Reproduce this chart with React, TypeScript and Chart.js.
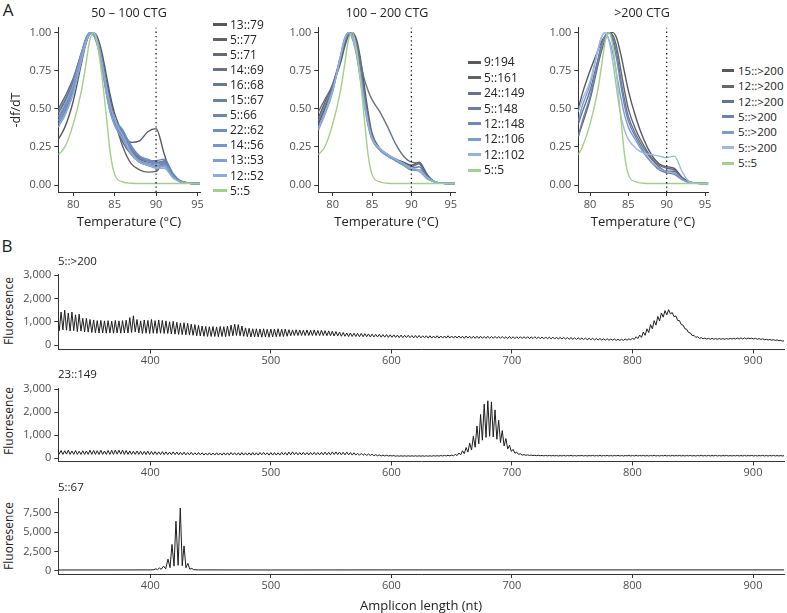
import React, { useEffect, useRef } from "react";
import { Chart, registerables } from "chart.js";
Chart.register(...registerables);

const FONT = "'Open Sans', sans-serif";
const AXIS_COLOR = "#333333";
const TICK_COLOR = "#4d4d4d";
Chart.defaults.font.family = FONT;

// ---------------- Panel A: melt curves ----------------
const A1_TEMPS = [78.2, 79, 80, 81, 81.5, 82, 82.5, 83, 83.5, 84, 84.5, 85, 86, 87, 88, 89, 90, 91, 92, 93, 94, 95.3];
const A2_TEMPS = [78.18, 79, 80, 81, 81.5, 82, 82.5, 83, 83.5, 84, 84.5, 85, 86, 87, 88, 89, 90, 91, 92, 93, 94, 95.54];
const A3_TEMPS = [78.47, 79, 80, 81, 81.5, 82, 82.5, 83, 83.5, 84, 84.5, 85, 86, 87, 88, 89, 90, 91, 92, 93, 94, 95.43];
const A_XTICKS = [80, 85, 90, 95];
const A_YTICKS = [0, 0.25, 0.5, 0.75, 1];
const A_MARK_TEMP = 90;
const A_TITLES = ["50 – 100 CTG", "100 – 200 CTG", ">200 CTG"];

const S_5_5 = [0.2, 0.25, 0.4, 0.62, 0.78, 0.95, 1.0, 0.9, 0.7, 0.45, 0.2, 0.07, 0.02, 0.012, 0.01, 0.01, 0.01, 0.01, 0.01, 0.01, 0.01, 0.01];

const S1_13_79 = [0.3, 0.38, 0.55, 0.8, 0.92, 0.99, 1.0, 0.96, 0.86, 0.72, 0.58, 0.47, 0.34, 0.28, 0.29, 0.35, 0.37, 0.2, 0.06, 0.025, 0.015, 0.012];
const S1_5_77 = [0.47, 0.55, 0.68, 0.86, 0.95, 1.0, 0.99, 0.93, 0.82, 0.68, 0.55, 0.43, 0.25, 0.14, 0.1, 0.085, 0.09, 0.15, 0.06, 0.02, 0.012, 0.01];
const S1_5_71 = [0.5, 0.58, 0.7, 0.87, 0.95, 1.0, 0.98, 0.92, 0.8, 0.66, 0.53, 0.42, 0.28, 0.2, 0.15, 0.13, 0.12, 0.14, 0.06, 0.02, 0.012, 0.01];
const S1_14_69 = [0.44, 0.52, 0.66, 0.85, 0.94, 0.99, 1.0, 0.93, 0.8, 0.66, 0.52, 0.42, 0.31, 0.22, 0.17, 0.15, 0.14, 0.16, 0.07, 0.025, 0.012, 0.01];
const S1_16_68 = [0.42, 0.5, 0.64, 0.84, 0.94, 0.99, 1.0, 0.92, 0.78, 0.63, 0.5, 0.41, 0.32, 0.23, 0.18, 0.16, 0.15, 0.15, 0.07, 0.02, 0.012, 0.01];
const S1_15_67 = [0.48, 0.56, 0.69, 0.87, 0.96, 1.0, 0.98, 0.9, 0.77, 0.62, 0.5, 0.42, 0.34, 0.24, 0.18, 0.16, 0.16, 0.17, 0.08, 0.025, 0.012, 0.01];
const S1_5_66 = [0.4, 0.48, 0.62, 0.83, 0.93, 0.99, 1.0, 0.92, 0.78, 0.63, 0.5, 0.42, 0.35, 0.26, 0.19, 0.17, 0.15, 0.15, 0.07, 0.02, 0.012, 0.01];
const S1_22_62 = [0.38, 0.46, 0.6, 0.82, 0.93, 0.99, 1.0, 0.93, 0.79, 0.64, 0.51, 0.43, 0.36, 0.25, 0.19, 0.16, 0.14, 0.14, 0.06, 0.02, 0.012, 0.01];
const S1_14_56 = [0.42, 0.5, 0.63, 0.84, 0.94, 1.0, 0.99, 0.91, 0.76, 0.6, 0.47, 0.4, 0.33, 0.22, 0.16, 0.14, 0.13, 0.13, 0.06, 0.02, 0.012, 0.01];
const S1_13_53 = [0.45, 0.53, 0.66, 0.86, 0.95, 1.0, 0.98, 0.9, 0.76, 0.6, 0.47, 0.39, 0.3, 0.2, 0.15, 0.13, 0.12, 0.12, 0.05, 0.02, 0.012, 0.01];
const S1_12_52 = [0.38, 0.46, 0.6, 0.82, 0.93, 0.99, 1.0, 0.93, 0.8, 0.65, 0.52, 0.43, 0.32, 0.21, 0.15, 0.13, 0.11, 0.11, 0.05, 0.02, 0.012, 0.01];

const S2_9_194 = [0.4, 0.5, 0.65, 0.8, 0.9, 0.98, 1.0, 0.96, 0.84, 0.66, 0.48, 0.34, 0.24, 0.2, 0.17, 0.15, 0.13, 0.15, 0.07, 0.02, 0.012, 0.01];
const S2_5_161 = [0.44, 0.54, 0.66, 0.82, 0.92, 0.99, 1.0, 0.94, 0.8, 0.62, 0.45, 0.32, 0.23, 0.19, 0.17, 0.14, 0.12, 0.14, 0.06, 0.02, 0.012, 0.01];
const S2_24_149 = [0.48, 0.56, 0.66, 0.84, 0.94, 1.0, 0.99, 0.93, 0.82, 0.7, 0.62, 0.56, 0.48, 0.38, 0.27, 0.19, 0.15, 0.14, 0.06, 0.02, 0.012, 0.01];
const S2_5_148 = [0.42, 0.52, 0.64, 0.83, 0.93, 0.99, 1.0, 0.93, 0.78, 0.6, 0.44, 0.32, 0.24, 0.2, 0.16, 0.13, 0.11, 0.12, 0.05, 0.02, 0.012, 0.01];
const S2_12_148 = [0.38, 0.48, 0.62, 0.84, 0.95, 1.0, 0.97, 0.88, 0.72, 0.55, 0.4, 0.3, 0.23, 0.19, 0.16, 0.13, 0.1, 0.1, 0.05, 0.02, 0.012, 0.01];
const S2_12_106 = [0.36, 0.46, 0.61, 0.85, 0.96, 1.0, 0.96, 0.86, 0.7, 0.53, 0.39, 0.3, 0.23, 0.19, 0.16, 0.13, 0.1, 0.09, 0.04, 0.02, 0.012, 0.01];
const S2_12_102 = [0.37, 0.47, 0.62, 0.84, 0.95, 1.0, 0.97, 0.87, 0.72, 0.55, 0.41, 0.31, 0.24, 0.2, 0.17, 0.14, 0.11, 0.1, 0.05, 0.02, 0.012, 0.01];

const S3_15_200 = [0.5, 0.6, 0.75, 0.88, 0.94, 0.98, 1.0, 1.0, 0.96, 0.86, 0.74, 0.62, 0.44, 0.3, 0.2, 0.14, 0.12, 0.11, 0.05, 0.02, 0.012, 0.01];
const S3_12_200a = [0.32, 0.4, 0.56, 0.78, 0.88, 0.96, 1.0, 0.98, 0.9, 0.76, 0.62, 0.5, 0.36, 0.26, 0.18, 0.13, 0.11, 0.1, 0.05, 0.02, 0.012, 0.01];
const S3_12_200b = [0.4, 0.48, 0.62, 0.82, 0.92, 0.98, 1.0, 0.96, 0.86, 0.7, 0.56, 0.45, 0.33, 0.24, 0.17, 0.12, 0.09, 0.09, 0.04, 0.02, 0.012, 0.01];
const S3_5_200a = [0.32, 0.42, 0.58, 0.8, 0.91, 0.98, 1.0, 0.94, 0.82, 0.66, 0.52, 0.42, 0.31, 0.22, 0.15, 0.1, 0.08, 0.07, 0.035, 0.015, 0.012, 0.01];
const S3_5_200b = [0.42, 0.52, 0.66, 0.88, 0.97, 1.0, 0.95, 0.86, 0.72, 0.58, 0.46, 0.38, 0.29, 0.21, 0.15, 0.11, 0.09, 0.08, 0.04, 0.015, 0.012, 0.01];
const S3_5_200c = [0.48, 0.56, 0.68, 0.88, 0.97, 1.0, 0.94, 0.8, 0.62, 0.46, 0.36, 0.3, 0.24, 0.21, 0.2, 0.19, 0.18, 0.19, 0.09, 0.02, 0.012, 0.01];

const A1_LABELS = ["13::79", "5::77", "5::71", "14::69", "16::68", "15::67", "5::66", "22::62", "14::56", "13::53", "12::52", "5::5"];
const A1_SERIES = [S1_13_79, S1_5_77, S1_5_71, S1_14_69, S1_16_68, S1_15_67, S1_5_66, S1_22_62, S1_14_56, S1_13_53, S1_12_52, S_5_5];
const A1_COLORS = ["#55595f", "#5e636b", "#626a76", "#677285", "#6a7a93", "#6c80a3", "#6c87b6", "#6f8ec2", "#7595cb", "#7e9fd3", "#8cabdb", "#a2cf8a"];

const A2_LABELS = ["9:194", "5::161", "24::149", "5::148", "12::148", "12::106", "12::102", "5::5"];
const A2_SERIES = [S2_9_194, S2_5_161, S2_24_149, S2_5_148, S2_12_148, S2_12_106, S2_12_102, S_5_5];
const A2_COLORS = ["#56595f", "#5f646c", "#65708a", "#6a7da4", "#6b88c0", "#7a9ccf", "#93b2df", "#a2cf8a"];

const A3_LABELS = ["15::>200", "12::>200", "12::>200", "5::>200", "5::>200", "5::>200", "5::5"];
const A3_SERIES = [S3_15_200, S3_12_200a, S3_12_200b, S3_5_200a, S3_5_200b, S3_5_200c, S_5_5];
const A3_COLORS = ["#56595f", "#62666e", "#677390", "#6b84b3", "#7c9cd3", "#9cb9e4", "#a2cf8a"];

// ---------------- Panel B: capillary electrophoresis ----------------
const CE_START = 323; // nt of first repeat peak
const CE_STEP = 3; // CTG repeat unit
const B_XTICKS = [400, 500, 600, 700, 800, 900];
const B_LABELS = ["5::>200", "23::149", "5::67"];

const CE1_PEAKS = [
  1350, 1420, 1500, 1380, 1420, 1300, 1330, 1150, 1150, 1100,
  1080, 1050, 1060, 1040, 1050, 1030, 1060, 1040, 1050, 1070,
  1180, 1260, 1100, 1040, 1080, 1060, 1100, 1050, 1080, 1060,
  1040, 1000, 1020, 980, 950, 960, 940, 900, 880, 850,
  820, 800, 790, 800, 780, 800, 790, 820, 860, 900,
  880, 820, 740, 720, 700, 700, 690, 700, 680, 690,
  690, 700, 680, 690, 660, 650, 660, 650, 640, 650,
  640, 650, 630, 640, 620, 610, 600, 580, 560, 540,
  520, 520, 510, 500, 500, 490, 480, 470, 460, 460,
  450, 450, 440, 440, 430, 430, 420, 420, 410, 410,
  410, 400, 400, 400, 390, 400, 390, 390, 400, 390,
  390, 390, 380, 390, 380, 380, 380, 380, 370, 380,
  370, 370, 370, 370, 360, 370, 360, 360, 360, 360,
  360, 350, 360, 350, 350, 350, 340, 340, 340, 330,
  330, 320, 320, 310, 310, 300, 300, 290, 290, 280,
  280, 270, 270, 260, 260, 250, 250, 260, 270, 300,
  360, 430, 560, 700, 880, 1050, 1230, 1380, 1480, 1520,
  1400, 1250, 1050, 860, 680, 520, 420, 360, 320, 300,
  290, 290, 280, 280, 280, 280, 290, 290, 300, 310,
  310, 300, 300, 290, 280, 270, 250, 240, 230, 220,
  200, 190,
];
const CE1_TROUGHS = [
  620, 650, 640, 600, 620, 580, 600, 560, 560, 540,
  530, 520, 520, 510, 520, 510, 520, 510, 520, 520,
  540, 560, 520, 500, 510, 500, 510, 500, 510, 500,
  500, 480, 470, 460, 450, 440, 430, 420, 400, 390,
  380, 370, 370, 370, 360, 370, 360, 380, 400, 410,
  400, 380, 360, 350, 350, 350, 340, 350, 340, 350,
  360, 370, 370, 380, 400, 410, 410, 410, 410, 410,
  410, 410, 410, 410, 400, 400, 390, 390, 380, 380,
  370, 370, 370, 360, 360, 360, 350, 350, 350, 340,
  340, 330, 330, 330, 320, 320, 320, 320, 310, 310,
  310, 310, 300, 300, 300, 300, 300, 300, 300, 300,
  300, 300, 290, 300, 290, 290, 290, 290, 290, 290,
  290, 290, 290, 290, 280, 280, 280, 280, 280, 280,
  280, 280, 280, 270, 270, 270, 270, 260, 260, 260,
  260, 250, 250, 240, 240, 240, 230, 230, 220, 220,
  220, 210, 210, 210, 200, 200, 200, 210, 220, 240,
  280, 330, 420, 540, 700, 860, 1040, 1200, 1300, 1340,
  1220, 1060, 880, 700, 540, 410, 330, 290, 270, 260,
  250, 250, 250, 250, 250, 250, 260, 260, 260, 260,
  270, 270, 260, 250, 240, 230, 220, 210, 200, 190,
  170, 160,
];

const CE2_PEAKS = [
  430, 330, 320, 340, 310, 330, 300, 320, 310, 340,
  330, 320, 340, 310, 330, 340, 350, 340, 350, 330,
  310, 300, 310, 300, 290, 300, 290, 280, 270, 280,
  270, 260, 270, 260, 250, 260, 240, 250, 230, 240,
  230, 220, 230, 220, 230, 220, 230, 230, 240, 230,
  230, 240, 230, 230, 240, 230, 240, 250, 230, 240,
  240, 230, 250, 240, 260, 270, 250, 240, 250, 240,
  240, 250, 240, 250, 260, 250, 270, 270, 260, 250,
  260, 240, 230, 210, 200, 190, 180, 170, 150, 140,
  130, 120, 110, 110, 100, 100, 100, 100, 100, 100,
  100, 100, 100, 100, 105, 105, 110, 115, 120, 130,
  160, 220, 320, 460, 650, 950, 1400, 1900, 2350, 2500,
  2450, 2100, 1650, 1200, 850, 560, 380, 260, 190, 150,
  140, 130, 120, 120, 115, 115, 115, 110, 110, 110,
  115, 110, 115, 110, 110, 115, 110, 110, 115, 110,
  115, 110, 115, 110, 110, 115, 110, 110, 115, 110,
  115, 110, 115, 110, 110, 115, 110, 110, 115, 110,
  115, 110, 115, 110, 110, 115, 110, 110, 115, 110,
  115, 110, 115, 110, 110, 115, 110, 110, 115, 110,
  115, 110, 115, 110, 110, 115, 110, 110, 115, 110,
  110, 110,
];
const CE2_TROUGHS = [
  170, 160, 170, 160, 160, 160, 160, 160, 160, 160,
  160, 160, 160, 160, 160, 160, 170, 170, 160, 160,
  160, 160, 160, 150, 150, 150, 150, 150, 150, 150,
  150, 150, 150, 140, 140, 140, 140, 140, 140, 140,
  130, 130, 130, 130, 130, 130, 130, 130, 140, 130,
  130, 130, 130, 130, 130, 130, 140, 140, 130, 130,
  130, 130, 140, 130, 140, 150, 140, 140, 140, 140,
  140, 140, 140, 140, 140, 140, 150, 150, 140, 140,
  140, 130, 130, 120, 120, 110, 110, 100, 100, 90,
  90, 90, 90, 80, 80, 80, 80, 80, 80, 80,
  80, 80, 80, 80, 85, 85, 90, 90, 95, 100,
  110, 140, 190, 260, 350, 470, 620, 780, 900, 950,
  920, 820, 680, 530, 400, 290, 210, 160, 130, 120,
  115, 110, 105, 100, 95, 95, 95, 95, 90, 90,
  90, 95, 90, 90, 95, 90, 90, 95, 90, 90,
  90, 95, 90, 90, 95, 90, 90, 95, 90, 90,
  90, 95, 90, 90, 95, 90, 90, 95, 90, 90,
  90, 95, 90, 90, 95, 90, 90, 95, 90, 90,
  90, 95, 90, 90, 95, 90, 90, 95, 90, 90,
  90, 95, 90, 90, 95, 90, 90, 95, 90, 90,
  90, 90,
];

const CE3_NT = [323.7, 360, 400, 403, 404.6, 406, 407.6, 409, 411, 412.8, 414.7, 416.4, 418, 419.7, 421.3, 423.1, 424.9, 426.5, 428, 429.6, 431.2, 432.8, 434.5, 436, 440, 500, 600, 700, 800, 925.7];
const CE3_RFU = [100, 100, 110, 140, 250, 140, 350, 180, 600, 250, 1500, 400, 3400, 600, 6400, 700, 8100, 650, 3200, 380, 950, 200, 300, 130, 110, 100, 110, 110, 110, 110];

// ---------------- layout helpers ----------------
type Box = { l: number; t: number; r: number; b: number };
const YW = 40;
const XH = 26;
const PAD_T = 8;
const PAD_R = 10;

function frame(box: Box) {
  const cl = Math.floor(box.l - YW);
  const ct = Math.floor(box.t - PAD_T);
  const cw = Math.ceil(box.r + PAD_R) - cl;
  const ch = Math.ceil(box.b + XH) - ct;
  return {
    cl, ct, cw, ch,
    padL: box.l - YW - cl,
    padT: box.t - ct,
    padR: cl + cw - box.r,
    xh: ct + ch - box.b,
  };
}

function linAxis(min: number, max: number, ticks: number[], fmt: (v: number) => string, fit: (s: any) => void, pad: number) {
  return {
    type: "linear",
    min,
    max,
    afterBuildTicks: (s: any) => {
      s.ticks = ticks.map((v) => ({ value: v }));
    },
    afterFit: fit,
    grid: { display: true, drawOnChartArea: false, drawTicks: true, tickLength: 4, color: AXIS_COLOR, lineWidth: 1 },
    border: { display: true, color: AXIS_COLOR, width: 1 },
    ticks: {
      font: { family: FONT, size: 11 },
      color: TICK_COLOR,
      padding: pad,
      autoSkip: false,
      maxRotation: 0,
      minRotation: 0,
      callback: (v: any) => fmt(Number(v)),
    },
  };
}

function buildConfig(f: any, datasets: any[], x: [number, number, number[], (v: number) => string], y: [number, number, number[], (v: number) => string], xPad: number) {
  return {
    type: "line",
    data: { datasets },
    options: {
      responsive: false,
      maintainAspectRatio: false,
      animation: false,
      devicePixelRatio: 1,
      events: [],
      layout: { autoPadding: false, padding: { left: f.padL, top: f.padT, right: f.padR, bottom: 0 } },
      plugins: { legend: { display: false }, title: { display: false }, tooltip: { enabled: false } },
      elements: { point: { radius: 0 } },
      scales: {
        x: linAxis(x[0], x[1], x[2], x[3], (s: any) => { s.height = f.xh; }, xPad),
        y: linAxis(y[0], y[1], y[2], y[3], (s: any) => { s.width = YW; }, 3),
      },
    },
  };
}

function ChartCanvas({ box, make }: { box: Box; make: (f: any) => any }) {
  const ref = useRef<HTMLCanvasElement>(null);
  const f = frame(box);
  useEffect(() => {
    const chart = new Chart(ref.current as HTMLCanvasElement, make(f) as any);
    return () => chart.destroy();
  }, []);
  return (
    <canvas
      ref={ref}
      width={f.cw}
      height={f.ch}
      style={{ position: "absolute", left: f.cl, top: f.ct, width: f.cw, height: f.ch }}
    />
  );
}

const fmt2 = (v: number) => v.toFixed(2);
const fmtInt = (v: number) => String(v);
const fmtComma = (v: number) => v.toLocaleString("en-US");

const A_YMIN = -0.0457;
const A_YMAX = 1.033;

function meltConfig(temps: number[], series: number[][], colors: string[], xmin: number, xmax: number) {
  return (f: any) => {
    const ds: any[] = series.map((vals, i) => ({
      data: temps.map((t, k) => ({ x: t, y: vals[k] })),
      borderColor: colors[i],
      borderWidth: 1.4,
      cubicInterpolationMode: "monotone",
      fill: false,
      order: -i,
    }));
    ds.push({
      data: [
        { x: A_MARK_TEMP, y: A_YMIN },
        { x: A_MARK_TEMP, y: A_YMAX },
      ],
      borderColor: "#1a1a1a",
      borderWidth: 1.3,
      borderDash: [1.3, 3],
      fill: false,
      order: -100,
    });
    return buildConfig(f, ds, [xmin, xmax, A_XTICKS, fmtInt], [A_YMIN, A_YMAX, A_YTICKS, fmt2], 2);
  };
}

function repeatTrace(peaks: number[], troughs: number[]) {
  const pts: { x: number; y: number }[] = [];
  peaks.forEach((p, i) => {
    const x = CE_START + CE_STEP * i;
    pts.push({ x, y: p });
    pts.push({ x: x + CE_STEP / 2, y: troughs[i] });
  });
  return pts;
}

const B_XMIN = 323.7;
const B_XMAX = 925.7;

function traceConfig(points: { x: number; y: number }[], ymin: number, ymax: number, yticks: number[]) {
  return (f: any) =>
    buildConfig(
      f,
      [{ data: points, borderColor: "#1e1e1e", borderWidth: 1, tension: 0, fill: false }],
      [B_XMIN, B_XMAX, B_XTICKS, fmtInt],
      [ymin, ymax, yticks, fmtComma],
      1
    );
}

function Txt({ x, y, size, children, align = "center", rotate = false, color = "#222" }: any) {
  const tx = align === "left" ? "0" : "-50%";
  return (
    <div
      style={{
        position: "absolute",
        left: x,
        top: y,
        transform: rotate ? "translate(-50%,-50%) rotate(-90deg)" : `translate(${tx},-50%)`,
        fontSize: size,
        lineHeight: 1,
        whiteSpace: "nowrap",
        color,
        fontFamily: FONT,
      }}
    >
      {children}
    </div>
  );
}

function Legend({ x, textX, w, y0, dy, labels, colors, size }: any) {
  return (
    <>
      {labels.map((lab: string, i: number) => (
        <React.Fragment key={i}>
          <div style={{ position: "absolute", left: x, top: y0 + dy * i - 1.5, width: w, height: 3, background: colors[i] }} />
          <Txt x={textX} y={y0 + dy * i} size={size} align="left">
            {lab}
          </Txt>
        </React.Fragment>
      ))}
    </>
  );
}

export default function App() {
  const A1: Box = { l: 58.3, t: 26.6, r: 200, b: 192 };
  const A2: Box = { l: 318.3, t: 26.6, r: 455, b: 192 };
  const A3: Box = { l: 578.3, t: 26.6, r: 708.3, b: 192 };
  const B1: Box = { l: 58.3, t: 273.3, r: 784, b: 349.5 };
  const B2: Box = { l: 58.3, t: 387.3, r: 784, b: 461.5 };
  const B3: Box = { l: 58.3, t: 497.7, r: 784, b: 574 };

  return (
    <div style={{ position: "absolute", left: 0, top: 0, width: 787, height: 613, background: "#fff", overflow: "hidden", fontFamily: FONT }}>
      <ChartCanvas box={A1} make={meltConfig(A1_TEMPS, A1_SERIES, A1_COLORS, 78.2, 95.3)} />
      <ChartCanvas box={A2} make={meltConfig(A2_TEMPS, A2_SERIES, A2_COLORS, 78.18, 95.54)} />
      <ChartCanvas box={A3} make={meltConfig(A3_TEMPS, A3_SERIES, A3_COLORS, 78.47, 95.43)} />
      <ChartCanvas box={B1} make={traceConfig(repeatTrace(CE1_PEAKS, CE1_TROUGHS), -190, 3030, [0, 1000, 2000, 3000])} />
      <ChartCanvas box={B2} make={traceConfig(repeatTrace(CE2_PEAKS, CE2_TROUGHS), -150, 3030, [0, 1000, 2000, 3000])} />
      <ChartCanvas
        box={B3}
        make={traceConfig(CE3_NT.map((n, i) => ({ x: n, y: CE3_RFU[i] })), -420, 9314, [0, 2500, 5000, 7500])}
      />

      <Txt x={8} y={9} size={17}>A</Txt>
      <Txt x={129} y={12.5} size={12.5}>{A_TITLES[0]}</Txt>
      <Txt x={387} y={12.5} size={12.5}>{A_TITLES[1]}</Txt>
      <Txt x={642} y={12.5} size={12.5}>{A_TITLES[2]}</Txt>
      <Txt x={16} y={110} size={12.5} rotate>-df/dT</Txt>
      <Txt x={129} y={221} size={13}>Temperature (°C)</Txt>
      <Txt x={386.5} y={221} size={13}>Temperature (°C)</Txt>
      <Txt x={643} y={221} size={13}>Temperature (°C)</Txt>

      <Legend x={213} textX={230} w={14} y0={24.5} dy={15.1} labels={A1_LABELS} colors={A1_COLORS} size={12} />
      <Legend x={468} textX={484} w={13} y0={62.3} dy={15.4} labels={A2_LABELS} colors={A2_COLORS} size={12} />
      <Legend x={722} textX={738} w={12} y0={70.7} dy={15.4} labels={A3_LABELS} colors={A3_COLORS} size={11.5} />

      <Txt x={7} y={245} size={17}>B</Txt>
      <Txt x={58} y={261} size={11.5} align="left">{B_LABELS[0]}</Txt>
      <Txt x={58} y={374} size={11.5} align="left">{B_LABELS[1]}</Txt>
      <Txt x={58} y={487} size={11.5} align="left">{B_LABELS[2]}</Txt>
      <Txt x={8.5} y={311} size={12} rotate>Fluoresence</Txt>
      <Txt x={8.5} y={421} size={12} rotate>Fluoresence</Txt>
      <Txt x={8.5} y={536} size={12} rotate>Fluoresence</Txt>
      <Txt x={421} y={605} size={13}>Amplicon length (nt)</Txt>
    </div>
  );
}
